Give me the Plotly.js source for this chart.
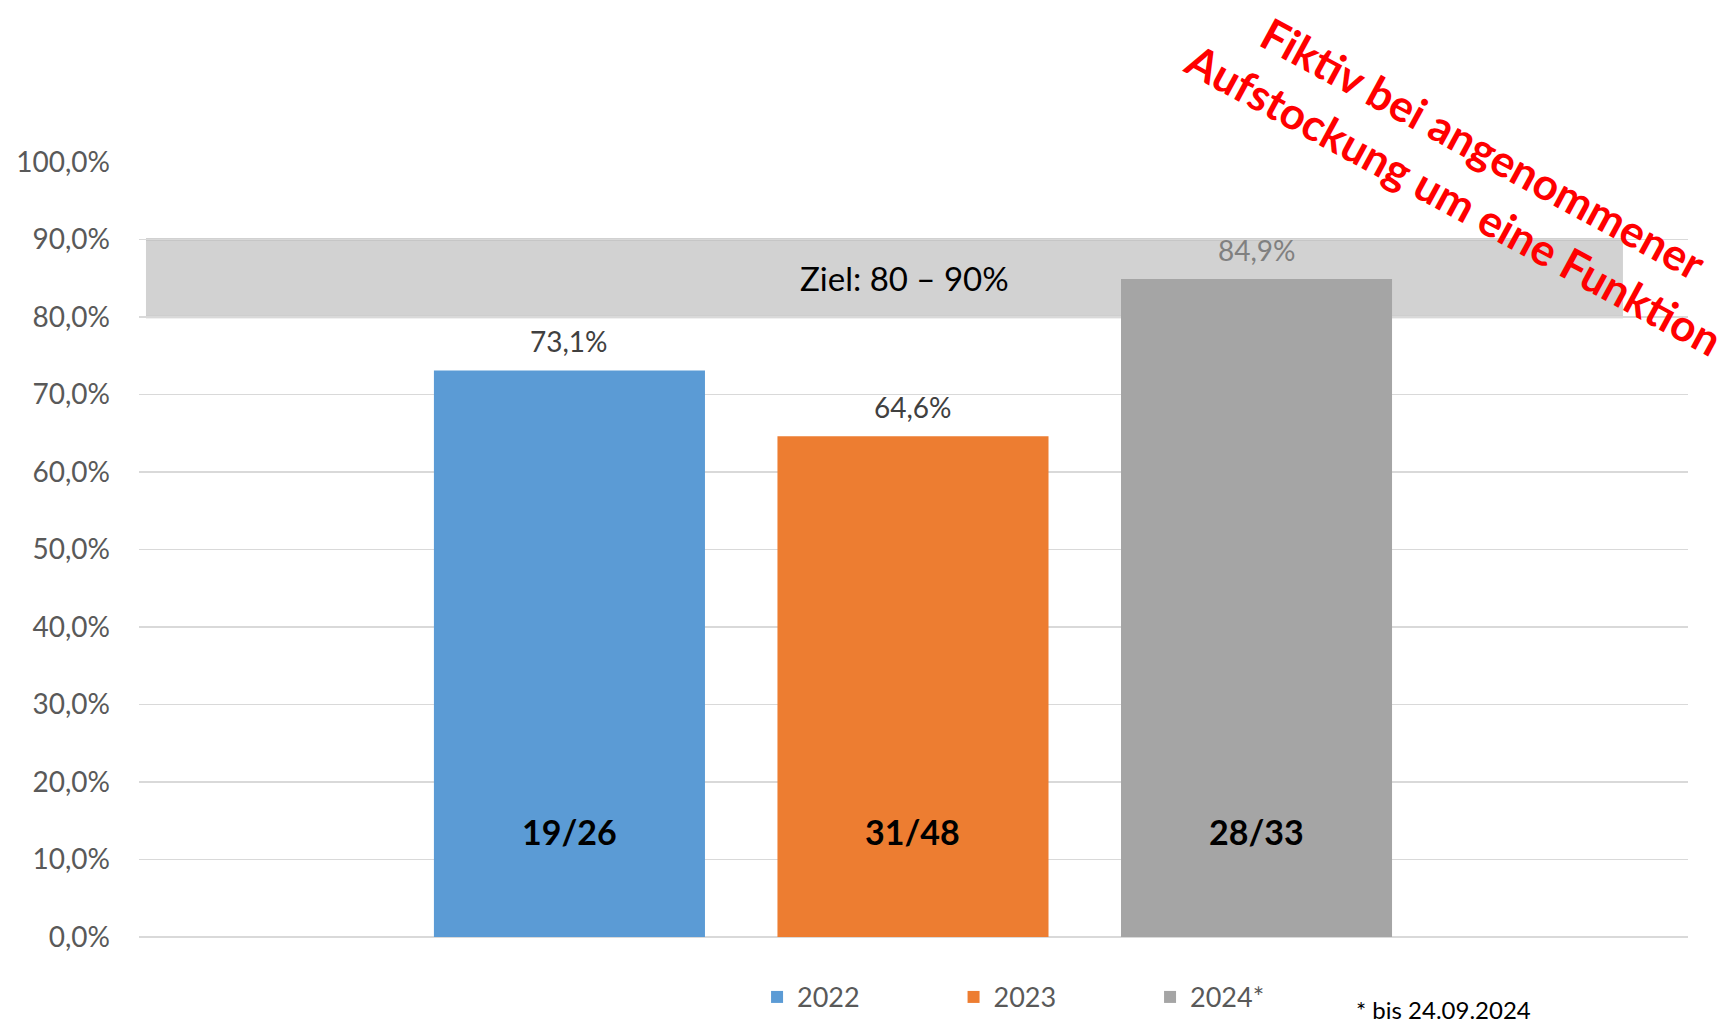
<!DOCTYPE html>
<html>
<head>
<meta charset="utf-8">
<script src="https://cdn.plot.ly/plotly-3.0.1.min.js"></script>
<style>html,body{margin:0;padding:0;background:#fff}#chart{width:1733px;height:1024px}</style>
</head>
<body>
<div id="chart"></div>
<script>
// ---- data ----
const years = ['2022', '2023', '2024*'];
const shares = [0.731, 0.646, 0.849];
const filled = [19, 31, 28];
const total = [26, 48, 33];
const barColors = ['#5b9bd5', '#ed7d31', '#a5a5a5'];
const valueLabelColors = ['#404040', '#404040', '#808080'];
const targetLow = 0.8;
const targetHigh = 0.9;
const targetText = 'Ziel: 80 – 90%';
const noteLines = ['Fiktiv bei angenommener', 'Aufstockung um eine Funktion'];
const footnote = '* bis 24.09.2024';

const FONT = 'Lato, "Open Sans", sans-serif';

const traces = years.map((yr, i) => ({
  type: 'bar',
  name: yr,
  x: [yr],
  y: [shares[i]],
  marker: {color: barColors[i]},
  hoverinfo: 'skip'
}));

const fmtPct = v => (v * 100).toFixed(1).replace('.', ',') + '%';

const annotations = [];
years.forEach((yr, i) => {
  annotations.push({
    x: i, y: shares[i], xref: 'x', yref: 'y',
    text: fmtPct(shares[i]), showarrow: false,
    yanchor: 'middle', yshift: 29,
    font: {family: FONT, size: 28, color: valueLabelColors[i]}
  });
  annotations.push({
    x: i, y: 0, xref: 'x', yref: 'y',
    text: '<b>' + filled[i] + '/' + total[i] + '</b>', showarrow: false,
    yanchor: 'middle', yshift: 106,
    font: {family: FONT, size: 34, color: '#000000'}
  });
});
annotations.push({
  x: 0.494, y: (targetLow + targetHigh) / 2, xref: 'paper', yref: 'y',
  text: targetText, showarrow: false, xanchor: 'center', yanchor: 'middle',
  font: {family: FONT, size: 33, color: '#000000'}
});
annotations.push({
  x: 0.8677, y: 1.018, xref: 'paper', yref: 'paper',
  text: '<b>' + noteLines[0] + '</b>', showarrow: false, textangle: 28.5,
  xanchor: 'center', yanchor: 'middle',
  font: {family: FONT, size: 44, color: '#ff0000'}
});
annotations.push({
  x: 0.8489, y: 0.952, xref: 'paper', yref: 'paper',
  text: '<b>' + noteLines[1] + '</b>', showarrow: false, textangle: 28.5,
  xanchor: 'center', yanchor: 'middle',
  font: {family: FONT, size: 44, color: '#ff0000'}
});
annotations.push({
  x: 0.842, y: -0.094, xref: 'paper', yref: 'paper',
  text: footnote, showarrow: false, xanchor: 'center', yanchor: 'middle',
  font: {family: FONT, size: 24, color: '#000000'}
});

const shapes = [
  {type: 'rect', xref: 'paper', yref: 'y', x0: 0.0045, x1: 0.958, y0: targetLow, y1: targetHigh,
   fillcolor: '#d2d2d2', line: {width: 0}, layer: 'below'},
  {type: 'line', xref: 'paper', yref: 'y', x0: 0.0045, x1: 0.958, y0: targetHigh, y1: targetHigh,
   line: {color: '#c2c2c2', width: 2.5}, layer: 'below'},
  {type: 'line', xref: 'paper', yref: 'y', x0: 0.0045, x1: 0.958, y0: targetLow, y1: targetLow,
   line: {color: '#c2c2c2', width: 2.5}, layer: 'below'}
];

const layout = {
  width: 1733, height: 1024,
  margin: {l: 139, r: 45, t: 162, b: 87, pad: 0},
  paper_bgcolor: '#ffffff', plot_bgcolor: '#ffffff',
  separators: ',.',
  barmode: 'overlay',
  bargap: 0.211,
  font: {family: FONT, color: '#595959'},
  showlegend: true,
  legend: {
    orientation: 'h', x: 0.399, xanchor: 'left', y: 0.026, yref: 'container', yanchor: 'middle',
    font: {family: FONT, size: 27, color: '#595959'},
    entrywidth: 151.5, entrywidthmode: 'pixels',
    bgcolor: 'rgba(0,0,0,0)', traceorder: 'normal'
  },
  xaxis: {
    type: 'category', categoryorder: 'array', categoryarray: years,
    range: [-1.253, 3.256], showticklabels: false, showgrid: false, zeroline: false,
    showline: false, ticks: '', fixedrange: true
  },
  yaxis: {
    range: [0, 1], dtick: 0.1, tick0: 0, tickformat: '.1%',
    showgrid: true, gridcolor: '#d9d9d9', gridwidth: 1.6,
    zeroline: true, zerolinecolor: '#d9d9d9', zerolinewidth: 1.6,
    showline: false, ticks: '', ticklabelstandoff: 28,
    tickfont: {family: FONT, size: 28, color: '#595959'}, fixedrange: true
  },
  shapes: shapes,
  annotations: annotations
};

Plotly.newPlot('chart', traces, layout, {displayModeBar: false, staticPlot: true});
</script>
</body>
</html>
